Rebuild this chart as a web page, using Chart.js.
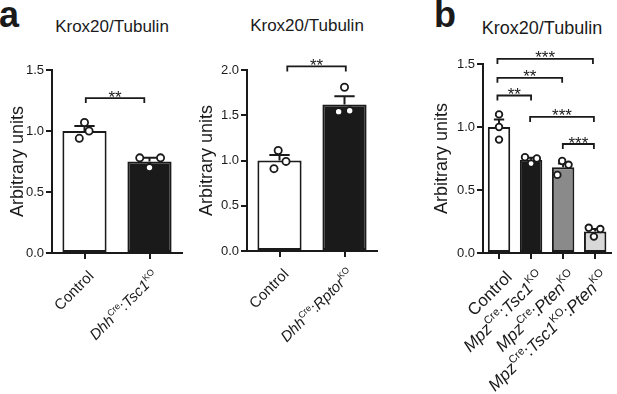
<!DOCTYPE html>
<html>
<head>
<meta charset="utf-8">
<script src="https://cdn.jsdelivr.net/npm/chart.js@4.4.0/dist/chart.umd.min.js"></script>
<style>
  body { margin: 0; width: 617px; height: 394px; background: #fff; position: relative; overflow: hidden;
         font-family: "Liberation Sans", Arial, Helvetica, sans-serif; color: #1a1a1a; }
  canvas { position: absolute; left: 0; top: 0; }
  .tag { position: absolute; font-size: 36px; line-height: 36px; font-weight: bold; }
  .ttl { position: absolute; width: 160px; text-align: center; font-size: 17px; line-height: 20px; }
</style>
</head>
<body>
<div class="tag" style="left:-1px; top:-3px">a</div>
<div class="tag" style="left:434px; top:-3px">b</div>
<div class="ttl" style="left:32px; top:17px">Krox20/Tubulin</div>
<div class="ttl" style="left:227px; top:16px">Krox20/Tubulin</div>
<div class="ttl" style="left:462px; top:18px; font-size:18px">Krox20/Tubulin</div>
<canvas id="tscChart" width="617" height="394"></canvas>
<canvas id="rptorChart" width="617" height="394"></canvas>
<canvas id="mpzChart" width="617" height="394"></canvas>
<script>
// label pieces: '' upright, 'i' italic, 's' superscript
// --- panel a, left: Dhh-Cre Tsc1 KO ---
const tscLabels = [
  [['Control', '']],
  [['Dhh', 'i'], ['Cre', 's'], [':', ''], ['Tsc1', 'i'], ['KO', 's']]
];
const tscMeans = [1.0, 0.75];
const tscSem = [0.04, 0.03];
const tscDots = [[1.07, 1.0, 0.94], [0.78, 0.78, 0.70]];
const tscJitter = [[0, 0.07, -0.08], [-0.15, 0.17, 0]];
const tscYTicks = [0, 0.5, 1.0, 1.5];
const tscSigFrom = [0.02];
const tscSigTo = [0.92];
const tscSigLevel = [1.27];
const tscSigText = ['**'];

// --- panel a, right: Dhh-Cre Rptor KO ---
const rptorLabels = [
  [['Control', '']],
  [['Dhh', 'i'], ['Cre', 's'], [':', ''], ['Rptor', 'i'], ['KO', 's']]
];
const rptorMeans = [1.0, 1.62];
const rptorSem = [0.06, 0.09];
const rptorDots = [[1.11, 0.99, 0.91], [1.81, 1.54, 1.55]];
const rptorJitter = [[-0.02, 0.1, -0.085], [0, -0.09, 0.08]];
const rptorYTicks = [0, 0.5, 1.0, 1.5, 2.0];
const rptorSigFrom = [0.12];
const rptorSigTo = [1.02];
const rptorSigLevel = [2.04];
const rptorSigText = ['**'];

// --- panel b: Mpz-Cre ---
const mpzLabels = [
  [['Control', '']],
  [['Mpz', 'i'], ['Cre', 's'], [':', ''], ['Tsc1', 'i'], ['KO', 's']],
  [['Mpz', 'i'], ['Cre', 's'], [':', ''], ['Pten', 'i'], ['KO', 's']],
  [['Mpz', 'i'], ['Cre', 's'], [':', ''], ['Tsc1', 'i'], ['KO', 's'], [':', ''], ['Pten', 'i'], ['KO', 's']]
];
const mpzMeans = [1.0, 0.74, 0.68, 0.17];
const mpzSem = [0.06, 0.015, 0.03, 0.02];
const mpzDots = [[1.10, 1.0, 0.90], [0.76, 0.75, 0.71], [0.73, 0.70, 0.62], [0.20, 0.19, 0.13]];
const mpzJitter = [[0, 0, 0], [-0.19, 0.18, 0], [-0.03, 0.17, -0.18], [-0.2, 0.16, -0.04]];
const mpzYTicks = [0, 0.5, 1.0, 1.5];
const mpzSigFrom = [-0.05, -0.05, -0.05, 0.97, 1.99];
const mpzSigTo = [2.93, 1.97, 1.0, 2.96, 2.96];
const mpzSigLevel = [1.54, 1.39, 1.25, 1.08, 0.865];
const mpzSigText = ['***', '**', '**', '***', '***'];

const FONT = '"Liberation Sans", Arial, Helvetica, sans-serif';
const INK = '#1a1a1a';
Chart.defaults.font.family = FONT;
Chart.defaults.color = INK;

function makePanel(id, p) {
  const dots = [];
  p.dots.forEach((grp, i) => grp.forEach((v, k) => dots.push({ x: i + p.jitter[i][k], y: v })));

  const extras = {
    id: 'extras',
    afterDatasetDraw(chart, args) {
      if (args.index !== 0) return;
      // upper SEM whiskers, under the dots
      const { ctx, scales: { x, y } } = chart;
      const half = chart.getDatasetMeta(0).data[0].width * 0.23;
      ctx.save();
      ctx.strokeStyle = INK;
      ctx.lineWidth = 2;
      p.means.forEach((m, i) => {
        const cx = x.getPixelForValue(i);
        const top = y.getPixelForValue(m + p.sem[i]);
        ctx.beginPath();
        ctx.moveTo(cx, y.getPixelForValue(m));
        ctx.lineTo(cx, top);
        ctx.moveTo(cx - half, top);
        ctx.lineTo(cx + half, top);
        ctx.stroke();
      });
      ctx.restore();
    },
    afterDraw(chart) {
      const { ctx, scales: { x, y } } = chart;
      ctx.save();
      // significance brackets
      ctx.strokeStyle = INK;
      ctx.fillStyle = INK;
      ctx.lineWidth = 1.8;
      ctx.textAlign = 'center';
      ctx.font = p.starSize + 'px ' + FONT;
      p.sigLevel.forEach((lv, j) => {
        const xa = x.getPixelForValue(p.sigFrom[j]);
        const xb = x.getPixelForValue(p.sigTo[j]);
        const yy = y.getPixelForValue(lv);
        ctx.beginPath();
        ctx.moveTo(xa, yy + 5);
        ctx.lineTo(xa, yy);
        ctx.lineTo(xb, yy);
        ctx.lineTo(xb, yy + 5);
        ctx.stroke();
        ctx.fillText(p.sigText[j], (xa + xb) / 2, yy + 4.5);
      });

      // rotated category labels with italics and superscripts
      ctx.textAlign = 'left';
      ctx.textBaseline = 'alphabetic';
      const fontOf = st => (st === 'i' ? 'italic ' : '') +
        (st === 's' ? Math.round(p.labelSize * 0.62) : p.labelSize) + 'px ' + FONT;
      p.labels.forEach((segs, i) => {
        ctx.save();
        ctx.translate(x.getPixelForValue(i) + p.labelDx, y.bottom + p.labelDy);
        ctx.rotate(-Math.PI / 4);
        let w = 0;
        segs.forEach(([t, st]) => { ctx.font = fontOf(st); w += ctx.measureText(t).width; });
        let cx = -w;
        segs.forEach(([t, st]) => {
          ctx.font = fontOf(st);
          ctx.fillText(t, cx, st === 's' ? -p.labelSize * 0.42 : 0);
          cx += ctx.measureText(t).width;
        });
        ctx.restore();
      });
      ctx.restore();
    }
  };

  const axisGrid = { drawOnChartArea: false, offset: false, tickLength: 6, lineWidth: 2, color: INK };
  const axisBorder = { color: INK, width: 2 };

  return new Chart(document.getElementById(id), {
    data: {
      datasets: [
        {
          type: 'bar',
          data: p.means.map((m, i) => ({ x: i, y: m })),
          backgroundColor: p.fills,
          borderColor: INK,
          borderWidth: 2,
          borderSkipped: false,
          barPercentage: p.barPct,
          categoryPercentage: 1,
          order: 1
        },
        {
          type: 'scatter',
          data: dots,
          pointRadius: p.dotR,
          pointBorderWidth: 1.8,
          pointBackgroundColor: '#ffffff',
          pointBorderColor: INK,
          order: 0
        }
      ]
    },
    options: {
      responsive: false,
      animation: false,
      events: [],
      layout: { padding: p.pad },
      plugins: { legend: { display: false }, tooltip: { enabled: false } },
      scales: {
        x: {
          type: 'linear',
          offset: false,
          min: -0.5,
          max: p.labels.length - 0.5,
          afterBuildTicks: a => { a.ticks = p.labels.map((_, i) => ({ value: i })); },
          afterFit: a => { a.height = 10; },
          ticks: { display: false },
          grid: axisGrid,
          border: axisBorder
        },
        y: {
          min: 0,
          max: p.yTicks[p.yTicks.length - 1],
          afterBuildTicks: a => { a.ticks = p.yTicks.map(v => ({ value: v })); },
          afterFit: a => { a.width = p.yWidth; },
          ticks: { font: { size: 13 }, color: INK, padding: 2, callback: v => v.toFixed(1) },
          grid: axisGrid,
          border: axisBorder,
          title: {
            display: true,
            text: 'Arbitrary units',
            font: { size: 18 },
            color: INK,
            padding: { top: p.titlePad, bottom: 0 }
          }
        }
      }
    },
    plugins: [extras]
  });
}

makePanel('tscChart', {
  labels: tscLabels, means: tscMeans, sem: tscSem, dots: tscDots, jitter: tscJitter, yTicks: tscYTicks,
  sigFrom: tscSigFrom, sigTo: tscSigTo, sigLevel: tscSigLevel, sigText: tscSigText,
  fills: ['#ffffff', '#1a1a1a'],
  pad: { left: 0, top: 70, right: 435, bottom: 131 },
  yWidth: 52, titlePad: 7, barPct: 0.68, dotR: 3.6,
  labelSize: 15, labelDx: 10, labelDy: 24, starSize: 17
});

makePanel('rptorChart', {
  labels: rptorLabels, means: rptorMeans, sem: rptorSem, dots: rptorDots, jitter: rptorJitter, yTicks: rptorYTicks,
  sigFrom: rptorSigFrom, sigTo: rptorSigTo, sigLevel: rptorSigLevel, sigText: rptorSigText,
  fills: ['#ffffff', '#1a1a1a'],
  pad: { left: 194, top: 70, right: 240, bottom: 133 },
  yWidth: 53, titlePad: 2, barPct: 0.68, dotR: 3.6,
  labelSize: 15, labelDx: 10, labelDy: 24, starSize: 17
});

makePanel('mpzChart', {
  labels: mpzLabels, means: mpzMeans, sem: mpzSem, dots: mpzDots, jitter: mpzJitter, yTicks: mpzYTicks,
  sigFrom: mpzSigFrom, sigTo: mpzSigTo, sigLevel: mpzSigLevel, sigText: mpzSigText,
  fills: ['#ffffff', '#1a1a1a', '#8a8a8a', '#d8d8d8'],
  pad: { left: 428, top: 64, right: 1, bottom: 131 },
  yWidth: 55, titlePad: 3, barPct: 0.7, dotR: 3.3,
  labelSize: 17, labelDx: 14, labelDy: 25, starSize: 17
});
</script>
</body>
</html>
